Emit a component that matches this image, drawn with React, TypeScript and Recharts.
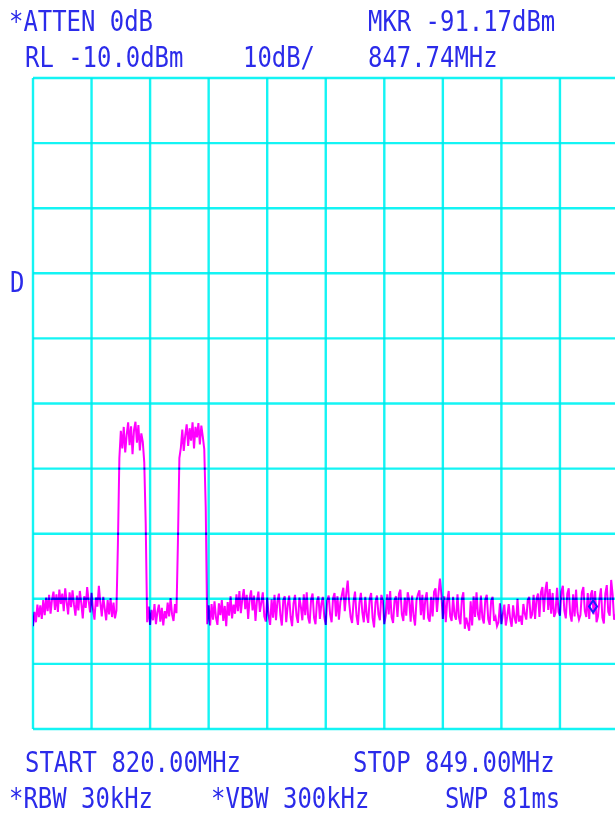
import React from "react";
import { LineChart, Line, XAxis, YAxis, ReferenceLine, ReferenceDot } from "recharts";

// Sweep settings
const START_MHZ = 820;
const STOP_MHZ = 849;
const REF_LEVEL = -10;
const BOTTOM_LEVEL = -110;
const MARKER_MHZ = 847.74;
const MARKER_DBM = -91.17;

// Graticule divisions (10 x 10)
const freqDivisions = [820, 822.9, 825.8, 828.7, 831.6, 834.5, 837.4, 840.3, 843.2, 846.1, 849];
const levelDivisions = [-10, -20, -30, -40, -50, -60, -70, -80, -90, -100, -110];

// Trace readings in dBm, 401 sweep points, split by region
const floorBelow = [
  -94.2, -92.0, -93.6, -90.9, -92.8, -91.0, -93.1, -90.2, -92.5, -89.8,
  -91.9, -89.4, -92.3, -90.1, -88.9, -91.7, -89.3, -92.0, -88.6, -90.8,
  -89.2, -91.9, -88.4, -90.5, -92.4, -89.0, -91.3, -88.7, -90.9, -92.6,
  -89.5, -91.8, -88.8, -90.7, -93.0, -89.6, -91.4, -88.2, -90.3, -92.1,
  -89.1, -91.6, -93.2, -89.8, -91.2, -88.0, -90.6, -92.7, -89.7, -91.5,
  -93.3, -90.2, -92.4, -89.9, -92.8, -90.6, -93.0, -91.8,
];
const carrierOne = [
  -81.7, -68.4,
  -64.2, -66.9, -63.6, -67.5, -64.8, -62.9, -66.4, -63.5, -67.8, -64.1,
  -62.8, -66.0, -63.3, -67.2, -64.6, -65.9,
  -69.0, -78.4,
];
const floorBetween = [
  -93.6, -91.2, -94.0, -91.7, -93.3, -90.8, -93.9, -92.0, -90.9, -93.5,
  -91.4, -94.1, -91.9, -93.0, -90.6, -92.7, -89.9, -92.4, -93.4, -90.8,
  -92.2,
];
const carrierTwo = [
  -81.4, -68.4,
  -66.8, -64.0, -67.3, -64.9, -63.2, -66.5, -63.8, -65.7, -62.9, -66.9,
  -63.6, -65.2, -63.0, -66.3, -63.4, -65.1,
  -67.0, -75.9,
];
const floorAbove = [
  -93.9, -91.0, -94.1, -90.8, -93.2, -90.4, -92.9, -94.0, -90.7, -92.5,
  -90.2, -93.4, -91.1, -94.2, -90.5, -92.6, -89.6, -93.0, -90.9, -92.3,
  -89.3, -91.9, -88.8, -92.2, -90.0, -88.5, -91.6, -89.4, -93.1, -89.9,
  -88.7, -91.8, -89.5, -93.4, -90.3, -88.9, -92.0, -90.6, -89.0, -92.7,
  -93.5, -89.8, -92.6, -94.0, -90.1, -92.9, -89.4, -93.3, -90.4, -89.2,
  -92.5, -94.1, -90.2, -89.6, -93.6, -91.0, -89.5, -92.8, -94.2, -90.7,
  -89.4, -92.6, -93.7, -89.8, -91.2, -93.3, -89.3, -92.5, -89.0, -92.9,
  -93.8, -90.1, -89.2, -92.9, -93.9, -90.4, -89.6, -93.1, -90.8, -89.7,
  -92.8, -94.0, -90.3, -89.5, -92.4, -93.6, -89.9, -89.1, -92.7, -89.6,
  -93.2, -90.5, -89.4, -88.3, -91.9, -89.2, -87.2, -90.6, -92.8, -93.7,
  -90.4, -88.9, -92.6, -94.0, -90.6, -89.1, -92.1, -93.6, -89.7, -92.5,
  -93.7, -90.0, -89.1, -92.9, -94.4, -90.5, -89.5, -92.4, -93.3, -89.4,
  -90.3, -93.9, -92.6, -89.3, -92.4, -88.8, -92.8, -93.7, -90.2, -89.6,
  -92.8, -89.2, -88.6, -92.4, -93.4, -89.8, -92.6, -89.0, -90.2, -93.5,
  -89.5, -92.6, -94.1, -90.2, -89.3, -88.7, -92.5, -89.4, -93.2, -90.1,
  -89.0, -92.9, -93.5, -89.7, -92.7, -88.9, -88.4, -92.0, -89.2, -86.9,
  -89.4, -93.1, -89.6, -93.6, -90.2, -88.8, -92.7, -93.4, -89.7, -92.5,
  -93.2, -89.3, -92.8, -93.9, -90.0, -89.0, -94.6, -92.9, -93.9, -94.9,
  -90.4, -94.1, -89.6, -92.8, -89.0, -92.4, -93.3, -89.5, -92.9, -93.8,
  -90.1, -89.4, -93.1, -94.0, -90.3, -89.7, -93.4, -92.8, -94.2, -93.6,
  -90.7, -93.9, -92.4, -90.9, -94.1, -92.7, -90.8, -93.1, -94.3, -91.0,
  -92.9, -93.8, -90.0, -93.5, -92.6, -94.0, -90.8, -92.3, -93.2, -90.2,
  -89.7, -93.0, -92.4, -89.4, -93.1, -90.0, -89.2, -92.8, -89.0, -88.2,
  -92.0, -88.7, -87.4, -91.7, -88.5, -92.3, -89.1, -92.8, -92.1, -88.3,
  -92.0, -92.6, -88.9, -88.0, -91.8, -93.0, -89.2, -88.4, -92.4, -93.5,
  -89.3, -92.7, -88.6, -92.1, -93.2, -92.5, -89.0, -88.2, -91.9, -92.8,
  -89.1, -93.1, -89.4, -88.7, -92.4, -88.8, -93.6, -92.7, -90.0, -88.4,
  -92.9, -93.8, -89.2, -87.9, -92.0, -92.6, -87.1, -89.4, -93.2, -92.4,
  -93.7, -89.7,
];

const traceDbm = [...floorBelow, ...carrierOne, ...floorBetween, ...carrierTwo, ...floorAbove];
const stepMhz = (STOP_MHZ - START_MHZ) / (traceDbm.length - 1);
const sweep = traceDbm.map((dbm, i) => ({ mhz: START_MHZ + i * stepMhz, dbm }));

const GRID = "#14f4f4";
const TRACE = "#ff00ff";
const INK = "#2b2bea";
const PITCH = 14.4;

function Annotation({ text, x, y }: { text: string; x: number; y: number }) {
  return (
    <text
      x={x}
      y={y}
      fill={INK}
      fontFamily="'DejaVu Sans Mono', monospace"
      fontSize={28}
      textLength={text.length * PITCH}
      lengthAdjust="spacingAndGlyphs"
    >
      {text}
    </text>
  );
}

const MarkerShape = (props: any) => {
  const { cx, cy } = props;
  return (
    <polygon
      points={`${cx},${cy - 6} ${cx + 4},${cy} ${cx},${cy + 6} ${cx - 4},${cy}`}
      fill="none"
      stroke="#1c1cff"
      strokeWidth={2}
    />
  );
};

export default function App() {
  return (
    <div
      style={{
        position: "absolute",
        left: 0,
        top: 0,
        width: 615,
        height: 815,
        overflow: "hidden",
        background: "#ffffff",
      }}
    >
      <style>{`
        .recharts-reference-line-line, .recharts-line-curve { mix-blend-mode: multiply; }
      `}</style>
      <LineChart
        width={625}
        height={815}
        data={sweep}
        margin={{ top: 78, right: 6.5, bottom: 86, left: 33 }}
      >
        <XAxis dataKey="mhz" type="number" domain={[START_MHZ, STOP_MHZ]} hide allowDataOverflow />
        <YAxis type="number" domain={[BOTTOM_LEVEL, REF_LEVEL]} hide allowDataOverflow />
        {freqDivisions.map((f) => (
          <ReferenceLine key={`v${f}`} x={f} stroke={GRID} strokeWidth={2.4} />
        ))}
        {levelDivisions.map((l) => (
          <ReferenceLine key={`h${l}`} y={l} stroke={GRID} strokeWidth={2.4} />
        ))}
        <Line
          dataKey="dbm"
          type="linear"
          stroke={TRACE}
          strokeWidth={2}
          dot={false}
          activeDot={false}
          isAnimationActive={false}
        />
        <ReferenceDot x={MARKER_MHZ} y={MARKER_DBM} shape={MarkerShape} />
      </LineChart>
      <svg
        width={615}
        height={815}
        style={{ position: "absolute", left: 0, top: 0, pointerEvents: "none" }}
      >
        <Annotation text="*ATTEN 0dB" x={9} y={31} />
        <Annotation text="MKR -91.17dBm" x={368} y={31} />
        <Annotation text="RL -10.0dBm" x={25} y={67} />
        <Annotation text="10dB/" x={243} y={67} />
        <Annotation text="847.74MHz" x={368} y={67} />
        <Annotation text="D" x={10} y={292} />
        <Annotation text="START 820.00MHz" x={25} y={772} />
        <Annotation text="STOP 849.00MHz" x={353} y={772} />
        <Annotation text="*RBW 30kHz" x={9} y={808} />
        <Annotation text="*VBW 300kHz" x={211} y={808} />
        <Annotation text="SWP 81ms" x={445} y={808} />
      </svg>
    </div>
  );
}
